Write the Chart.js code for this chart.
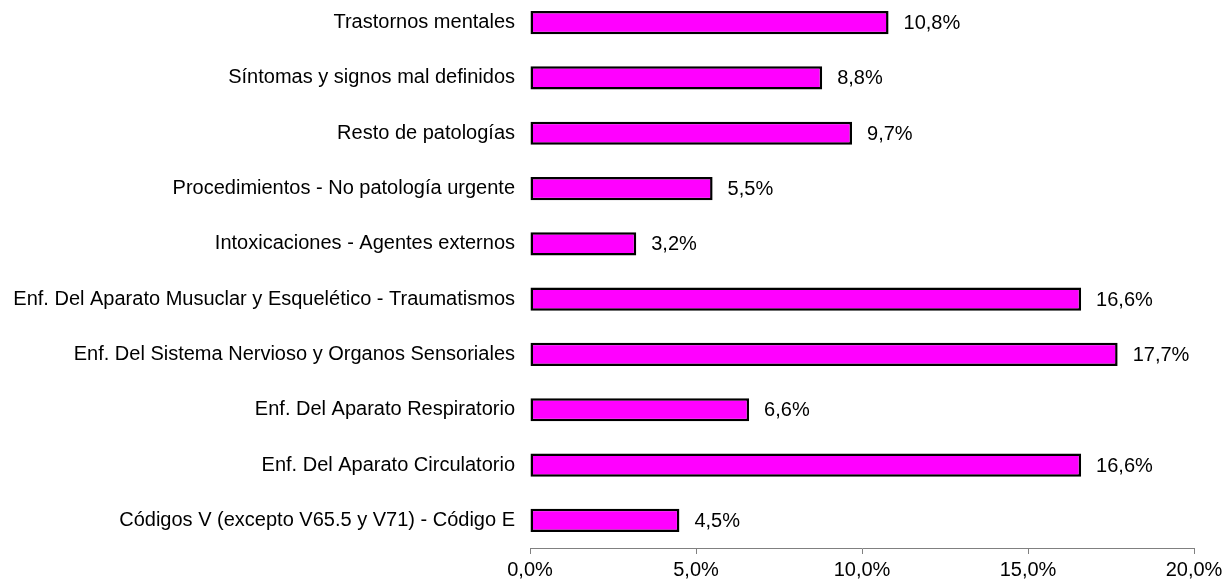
<!DOCTYPE html>
<html>
<head>
<meta charset="utf-8">
<script src="https://cdn.jsdelivr.net/npm/chart.js@4"></script>
<style>
  body { margin: 0; background: #fff; }
  #wrap { width: 1224px; height: 582px; overflow: hidden; position: relative; }
  #chart { position: absolute; left: 0; top: -5px; }
</style>
</head>
<body>
<div id="wrap"><canvas id="chart" width="1224" height="587"></canvas></div>
<script>
// categories top to bottom
const categories = [
  'Trastornos mentales',
  'Síntomas y signos mal definidos',
  'Resto de patologías',
  'Procedimientos - No patología urgente',
  'Intoxicaciones - Agentes externos',
  'Enf. Del Aparato Musuclar y Esquelético - Traumatismos',
  'Enf. Del Sistema Nervioso y Organos Sensoriales',
  'Enf. Del Aparato Respiratorio',
  'Enf. Del Aparato Circulatorio',
  'Códigos V (excepto V65.5 y V71) - Código E'
];
const percents = [10.8, 8.8, 9.7, 5.5, 3.2, 16.6, 17.7, 6.6, 16.6, 4.5];
const xTicks = [0, 5, 10, 15, 20];

const fmt = v => v.toFixed(1).replace('.', ',') + '%';
const FONT = "'Liberation Sans', Arial, sans-serif";

const valueLabels = {
  id: 'valueLabels',
  afterDatasetsDraw(chart) {
    const ctx = chart.ctx;
    ctx.save();
    ctx.font = '20px ' + FONT;
    ctx.fillStyle = '#000';
    ctx.textAlign = 'left';
    ctx.textBaseline = 'middle';
    chart.getDatasetMeta(0).data.forEach((bar, i) => {
      ctx.fillText(fmt(percents[i]), bar.x + 15, bar.y + 1);
    });
    ctx.restore();
  }
};

new Chart(document.getElementById('chart'), {
  type: 'bar',
  data: {
    labels: categories,
    datasets: [{
      data: percents,
      backgroundColor: '#FF00FF',
      borderColor: '#000',
      borderWidth: 2.5,
      borderSkipped: false,
      categoryPercentage: 1,
      barPercentage: 0.42
    }]
  },
  options: {
    indexAxis: 'y',
    responsive: false,
    animation: false,
    layout: { padding: { top: 0, right: 30, bottom: 0, left: 0 } },
    plugins: { legend: { display: false }, tooltip: { enabled: false } },
    scales: {
      x: {
        min: 0, max: 20,
        afterBuildTicks: s => { s.ticks = xTicks.map(v => ({ value: v })); },
        afterFit: s => { s.height = 34; s.paddingLeft = 0; s.paddingRight = 0; },
        grid: { drawOnChartArea: false, drawTicks: true, tickLength: 6, color: '#808080' },
        border: { display: true, color: '#808080', width: 1 },
        ticks: { callback: v => fmt(v), color: '#000', padding: 4, maxRotation: 0, font: { family: FONT, size: 20 } }
      },
      y: {
        afterFit: s => { s.width = 530; s.paddingTop = 0; s.paddingBottom = 0; },
        grid: { display: false, drawTicks: false },
        border: { display: false },
        ticks: { color: '#000', padding: 15, font: { family: FONT, size: 20 } }
      }
    }
  },
  plugins: [valueLabels]
});
</script>
</body>
</html>
